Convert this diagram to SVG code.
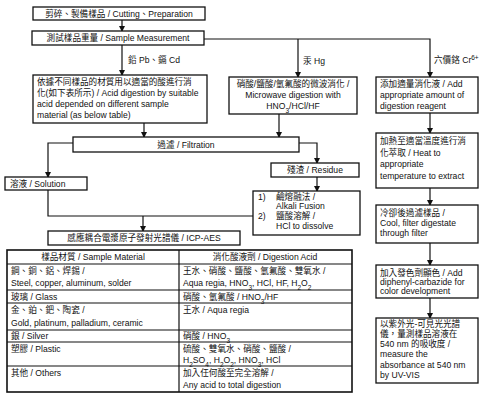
<svg xmlns="http://www.w3.org/2000/svg" width="482" height="394" viewBox="0 0 482 394">
<style>
.box{fill:#fff;stroke:#111;stroke-width:1.3}
.t{font-family:"Liberation Sans","Noto Sans CJK TC",sans-serif;font-size:8.6px;fill:#111}
.c{text-anchor:middle}
.ln{fill:none;stroke:#111;stroke-width:1.2}
.tb{fill:none;stroke:#111;stroke-width:1.6}
.sb{font-size:6.5px;baseline-shift:sub}
.sp{font-size:6.5px;baseline-shift:super}
</style>
<defs>
<marker id="ar" markerWidth="6" markerHeight="6" refX="5" refY="3" orient="auto" markerUnits="userSpaceOnUse">
<path d="M0,0 L6,3 L0,6 Z" fill="#111"/>
</marker>
</defs>
<rect width="482" height="394" fill="#fff"/>
<g id="connectors">
<path class="ln" d="M122,20 V31" marker-end="url(#ar)"/>
<path class="ln" d="M122,45 V75" marker-end="url(#ar)"/>
<path class="ln" d="M204,39 H430 V77" marker-end="url(#ar)"/>
<path class="ln" d="M298,39 V77" marker-end="url(#ar)"/>
<path class="ln" d="M144,123 V137" marker-end="url(#ar)"/>
<path class="ln" d="M279,114 V137" marker-end="url(#ar)"/>
<path class="ln" d="M73,143 H48 V177" marker-end="url(#ar)"/>
<path class="ln" d="M299,143 H317 V163" marker-end="url(#ar)"/>
<path class="ln" d="M317,177 V191" marker-end="url(#ar)"/>
<path class="ln" d="M48,190 V216 H253"/>
<path class="ln" d="M143,216 V231" marker-end="url(#ar)"/>
<path class="ln" d="M430,113 V133" marker-end="url(#ar)"/>
<path class="ln" d="M430,188 V205" marker-end="url(#ar)"/>
<path class="ln" d="M430,243 V265" marker-end="url(#ar)"/>
<path class="ln" d="M430,298 V318" marker-end="url(#ar)"/>
<text class="t" x="128" y="63">鉛 Pb、鎘 Cd</text>
<text class="t" x="303" y="64">汞 Hg</text>
<text class="t" x="434" y="63">六價鉻 Cr<tspan class="sp">6+</tspan></text>
</g>
<g id="cutting">
<rect class="box" x="33" y="7" width="172" height="13"/>
<text class="t c" x="119" y="17">剪碎、製備樣品 / Cutting、Preparation</text>
</g>
<g id="measurement">
<rect class="box" x="32" y="31" width="172" height="14"/>
<text class="t c" x="118" y="41">測試樣品重量 / Sample Measurement</text>
</g>
<g id="acid-digestion">
<rect class="box" x="33" y="75" width="174" height="48"/>
<text class="t" x="37" y="85">依據不同樣品的材質用以適當的酸進行消</text>
<text class="t" x="37" y="96">化(如下表所示) / Acid digestion by suitable</text>
<text class="t" x="37" y="107">acid depended on different sample</text>
<text class="t" x="37" y="118">material (as below table)</text>
</g>
<g id="microwave">
<rect class="box" x="229" y="77" width="128" height="37"/>
<text class="t c" x="293" y="87">硝酸/鹽酸/氫氟酸的微波消化 /</text>
<text class="t c" x="293" y="98">Microwave digestion with</text>
<text class="t c" x="293" y="109">HNO<tspan class="sb">3</tspan>/HCl/HF</text>
</g>
<g id="cr-add">
<rect class="box" x="376" y="77" width="102" height="36"/>
<text class="t" x="380" y="87">添加適量消化液 / Add</text>
<text class="t" x="380" y="98">appropriate amount of</text>
<text class="t" x="380" y="109">digestion reagent</text>
</g>
<g id="filtration">
<rect class="box" x="73" y="137" width="226" height="15"/>
<text class="t c" x="186" y="148">過濾 / Filtration</text>
</g>
<g id="solution">
<rect class="box" x="5" y="177" width="82" height="13"/>
<text class="t" x="10" y="187">溶液 / Solution</text>
</g>
<g id="residue">
<rect class="box" x="271" y="163" width="88" height="14"/>
<text class="t c" x="315" y="173">殘渣 / Residue</text>
</g>
<g id="alkali">
<rect class="box" x="253" y="191" width="107" height="44"/>
<text class="t" x="258" y="200">1)</text>
<text class="t" x="276" y="200">鹼熔融法 /</text>
<text class="t" x="276" y="209">Alkali Fusion</text>
<text class="t" x="258" y="219">2)</text>
<text class="t" x="276" y="219">鹽酸溶解 /</text>
<text class="t" x="276" y="229">HCl to dissolve</text>
</g>
<g id="cr-heat">
<rect class="box" x="376" y="133" width="102" height="55"/>
<text class="t" x="380" y="144">加熱至適當溫度進行消</text>
<text class="t" x="380" y="156">化萃取 / Heat to</text>
<text class="t" x="380" y="167">appropriate</text>
<text class="t" x="380" y="179">temperature to extract</text>
</g>
<g id="cr-cool">
<rect class="box" x="376" y="205" width="102" height="38"/>
<text class="t" x="380" y="216">冷卻後過濾樣品 /</text>
<text class="t" x="380" y="226">Cool, filter digestate</text>
<text class="t" x="380" y="236">through filter</text>
</g>
<g id="icp">
<rect class="box" x="48" y="231" width="192" height="14"/>
<text class="t c" x="144" y="241">感應耦合電漿原子發射光譜儀 / ICP-AES</text>
</g>
<g id="cr-color">
<rect class="box" x="376" y="265" width="102" height="33"/>
<text class="t" x="380" y="276">加入發色劑顯色 / Add</text>
<text class="t" x="380" y="285">diphenyl-carbazide for</text>
<text class="t" x="380" y="294">color development</text>
</g>
<g id="cr-uvvis">
<rect class="box" x="376" y="318" width="102" height="65"/>
<text class="t" x="380" y="327">以紫外光-可見光光譜</text>
<text class="t" x="380" y="337">儀，量測樣品溶液在</text>
<text class="t" x="380" y="347">540 nm 的吸收度 /</text>
<text class="t" x="380" y="357">measure the</text>
<text class="t" x="380" y="368">absorbance at 540 nm</text>
<text class="t" x="380" y="378">by UV-VIS</text>
</g>
<g id="table">
<rect class="tb" x="7" y="250" width="345" height="142"/>
<path class="ln" d="M179,250 V392 M7,264 H352 M7,290 H352 M7,303 H352 M7,330 H352 M7,342 H352 M7,366 H352"/>
<text class="t c" x="93" y="260">樣品材質 / Sample Material</text>
<text class="t c" x="265" y="260">消化酸液劑 / Digestion Acid</text>
<text class="t" x="11" y="274">鋼、銅、鋁、焊錫 /</text>
<text class="t" x="11" y="286">Steel, copper, aluminum, solder</text>
<text class="t" x="183" y="274">王水、硝酸、鹽酸、氫氟酸、雙氧水 /</text>
<text class="t" x="183" y="286">Aqua regia, HNO<tspan class="sb">3</tspan>, HCl, HF, H<tspan class="sb">2</tspan>O<tspan class="sb">2</tspan></text>
<text class="t" x="11" y="300">玻璃 / Glass</text>
<text class="t" x="183" y="300">硝酸、氫氟酸 / HNO<tspan class="sb">3</tspan>/HF</text>
<text class="t" x="11" y="313">金、鉑、鈀、陶瓷 /</text>
<text class="t" x="11" y="326">Gold, platinum, palladium, ceramic</text>
<text class="t" x="183" y="313">王水 / Aqua regia</text>
<text class="t" x="11" y="339">銀 / Silver</text>
<text class="t" x="183" y="339">硝酸 / HNO<tspan class="sb">3</tspan></text>
<text class="t" x="11" y="352">塑膠 / Plastic</text>
<text class="t" x="183" y="352">硫酸、雙氧水、硝酸、鹽酸 /</text>
<text class="t" x="183" y="363">H<tspan class="sb">2</tspan>SO<tspan class="sb">4</tspan>, H<tspan class="sb">2</tspan>O<tspan class="sb">2</tspan>, HNO<tspan class="sb">3</tspan>, HCl</text>
<text class="t" x="11" y="376">其他 / Others</text>
<text class="t" x="183" y="376">加入任何酸至完全溶解 /</text>
<text class="t" x="183" y="388">Any acid to total digestion</text>
</g>
</svg>
